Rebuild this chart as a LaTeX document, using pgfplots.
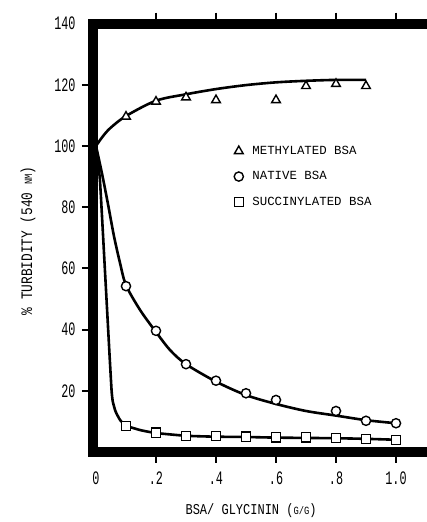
\documentclass[border=0pt]{standalone}
\usepackage{fontspec}
\setmainfont{Liberation Mono}
\newfontfamily\tickfont[FakeStretch=0.62]{Liberation Mono}
\newfontfamily\labfont[FakeStretch=0.8]{Liberation Mono}
\usepackage{pgfplots}
\pgfplotsset{compat=1.18}

% measured points
\pgfplotstableread{
x y
0.1 109.6
0.2 114.5
0.3 115.9
0.4 115.0
0.6 115.0
0.7 119.6
0.8 120.3
0.9 119.6
}\methyl
\pgfplotstableread{
x y
0.1 54.2
0.2 39.6
0.3 28.7
0.4 23.3
0.5 19.2
0.6 17.0
0.8 13.4
0.9 10.2
1.0 9.4
}\native
\pgfplotstableread{
x y
0.1 8.5
0.2 6.3
0.3 5.2
0.4 5.2
0.5 5.0
0.6 4.8
0.7 4.8
0.8 4.6
0.9 4.3
1.0 3.9
}\succin

% fitted curves as drawn
\pgfplotstableread{
x y
0 100
0.02 102.8
0.047 105.8
0.1 109.8
0.2 114.8
0.3 116.9
0.4 118.6
0.5 119.9
0.6 120.8
0.7 121.3
0.8 121.6
0.9 121.6
}\methylfit
\pgfplotstableread{
x y
0 100
0.02 91
0.04 81
0.06 70.5
0.08 61.8
0.1 54.5
0.147 46.4
0.197 39.6
0.247 33.3
0.3 28.7
0.4 23.0
0.5 18.6
0.6 15.7
0.7 13.4
0.8 11.9
0.9 10.4
1.0 9.4
}\nativefit
\pgfplotstableread{
x y
0 100
0.013 89
0.03 59
0.045 32
0.052 20
0.056 16.5
0.065 13.3
0.08 10.5
0.1 8.6
0.15 7.1
0.2 6.2
0.3 5.3
0.4 5.0
0.5 4.9
0.6 4.7
0.7 4.6
0.8 4.5
0.9 4.3
1.0 4.0
}\succinfit

\begin{document}
\begin{tikzpicture}
\begin{axis}[
    x=300pt, y=3.06pt,
    anchor=origin, at={(0pt,0pt)},
    xmin=-0.01, xmax=1.11,
    ymin=0, ymax=140,
    clip=false,
    axis line style={draw=none},
    tick align=outside,
    major tick length=11pt,
    major tick style={line width=2pt, black},
    xtick={0.2,0.4,0.6,0.8,1.0},
    xticklabels={.2,.4,.6,.8,1.0},
    extra x ticks={0},
    extra x tick labels={0},
    extra x tick style={major tick style={draw=none}},
    ytick={20,40,60,80,100,120},
    yticklabels={20,40,60,80,100,120},
    extra y ticks={140},
    extra y tick labels={140},
    extra y tick style={major tick style={draw=none}},
    xtick pos=both, xticklabel pos=lower,
    ytick pos=left,
    tick label style={font=\tickfont\fontsize{19}{19}\selectfont},
    xticklabel style={yshift=-5pt},
    yticklabel style={xshift=-3pt},
    every axis x label/.style={at={(axis cs:0.517,-19)}, anchor=center},
    every axis y label/.style={at={(axis cs:-0.227,69)}, anchor=center, rotate=90},
    xlabel={\labfont\fontsize{15}{15}\selectfont BSA/ GLYCININ ({\fontsize{11}{11}\selectfont G/G})},
    ylabel={\labfont\fontsize{16}{16}\selectfont \% TURBIDITY (540 {\fontsize{11}{11}\selectfont NM})},
    legend style={at={(axis cs:0.45,100.7)}, anchor=north west, draw=none, fill=none,
        font=\fontsize{12.4}{12.4}\selectfont, row sep=15.5pt,
        nodes={text height=8pt, text depth=2pt, inner sep=0pt}},
    legend cell align=left,
    /tikz/every odd column/.append style={column sep=9pt},
    legend image code/.code={\draw[#1] plot coordinates {(0pt,0pt)};},
]
\draw[line width=10pt, line join=miter]
    (axis cs:1.11,140) -- (axis cs:-0.01,140) -- (axis cs:-0.01,0) -- (axis cs:1.11,0);

\addplot[black, line width=2.6pt, smooth, tension=0.5, forget plot] table {\methylfit};
\addplot[black, line width=2.6pt, smooth, tension=0.5, forget plot] table {\nativefit};
\addplot[black, line width=2.6pt, smooth, tension=0.3, forget plot] table {\succinfit};

\addplot[only marks, mark=triangle*, mark size=5pt,
    mark options={draw=black, fill=white, line width=1.4pt}] table {\methyl};
\addplot[only marks, mark=*, mark size=4.6pt,
    mark options={draw=black, fill=white, line width=1.4pt}] table {\native};
\addplot[only marks, mark=square*, mark size=4.6pt,
    mark options={draw=black, fill=white, line width=1.4pt}] table {\succin};
\legend{METHYLATED BSA, NATIVE BSA, SUCCINYLATED BSA}
\end{axis}
\pgfresetboundingbox
\path (-96pt,-70pt) rectangle (331pt,452pt);
\end{tikzpicture}
\end{document}
